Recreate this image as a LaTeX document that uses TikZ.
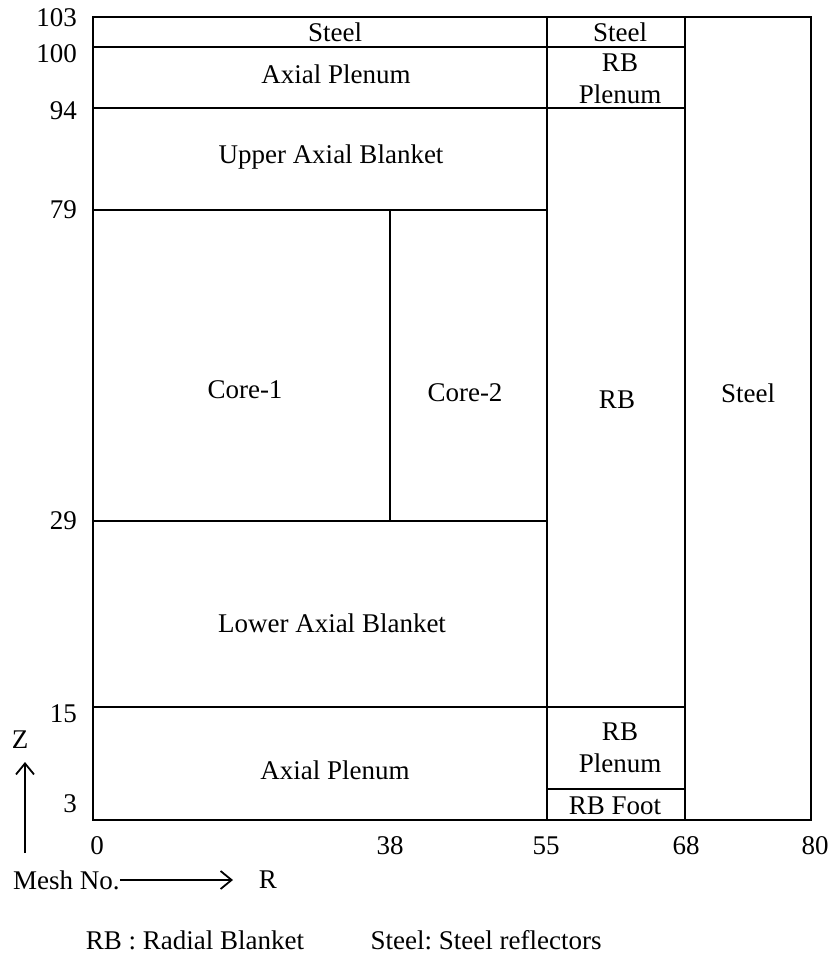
\documentclass[tikz,border=0pt]{standalone}
\usepackage{fontspec}
\setmainfont{Liberation Serif}
\usetikzlibrary{arrows.meta}
\frenchspacing

\tikzstyle{wall} = [draw, line width=2pt, line cap=rect]
\tikzstyle{zone} = [font=\fontsize{27}{32}\selectfont, align=center, inner sep=0pt]
\tikzstyle{mesh} = [font=\fontsize{27}{32}\selectfont, inner sep=0pt]
\tikzstyle{axis} = [draw, line width=1.6pt, -{Straight Barb[length=11pt,width=18pt,line width=1.8pt]}]
\def\boundaries{{(93,47)/(685,47)}, {(93,108)/(685,108)}, {(93,210)/(547,210)}, {(390,210)/(390,521)}, {(93,521)/(547,521)}, {(93,707)/(685,707)}, {(547,789)/(685,789)}, {(547,17)/(547,820)}, {(685,17)/(685,820)}}
\def\zones{{(335,32)/steeltop/Steel}, {(620,32)/steelrb/Steel}, {(336,74)/plenumtop/Axial Plenum}, {(620,79)/rbplenumtop/RB\\Plenum}, {(331,157)/uab/Upper Axial Blanket}, {(245,390)/coreone/Core-1}, {(465,393)/coretwo/Core-2}, {(617,400)/rb/RB}, {(748,393)/steelside/Steel}, {(332,623)/lab/Lower Axial Blanket}, {(335,770)/plenumbot/Axial Plenum}, {(620,748)/rbplenumbot/RB\\Plenum}, {(615,806)/rbfoot/RB Foot}}

\begin{document}
\begin{tikzpicture}[x=1pt,y=-1pt]
    \useasboundingbox (0,0) rectangle (830,956);

    % The outer frame
    \draw[wall] (93,17) rectangle (811,820);

    % The zone boundaries
    \foreach \from/\to in \boundaries
      \path[wall] \from -- \to;

    % The zone names
    \foreach \pos/\name/\text in \zones
      \node[zone] (\name) at \pos {\text};

    % Mesh numbers along Z and R
    \foreach \z/\y in {103/18, 100/54, 94/111, 79/210, 29/521, 15/714, 3/804}
      \node[mesh, anchor=east] (z\z) at (77,\y) {\z};
    \foreach \r/\x in {0/97, 38/390, 55/546, 68/686, 80/815}
      \node[mesh] (r\r) at (\x,846) {\r};

    % The axes
    \node[mesh] (zaxis) at (20,740) {Z};
    \coordinate (zfoot) at (25,853);
    \coordinate (ztip) at (25,762);
    \path[axis] (zfoot) -- (ztip);
    \node[mesh, anchor=west] (meshno) at (13,880) {Mesh No.};
    \node[mesh] (raxis) at (268,880) {R};
    \coordinate (rtip) at (233,880);
    \path[axis] (meshno.east) -- (rtip);

    % The legend
    \node[mesh] (rbkey) at (195,940) {RB : Radial Blanket};
    \node[mesh] (steelkey) at (486,940) {Steel: Steel reflectors};
\end{tikzpicture}
\end{document}
